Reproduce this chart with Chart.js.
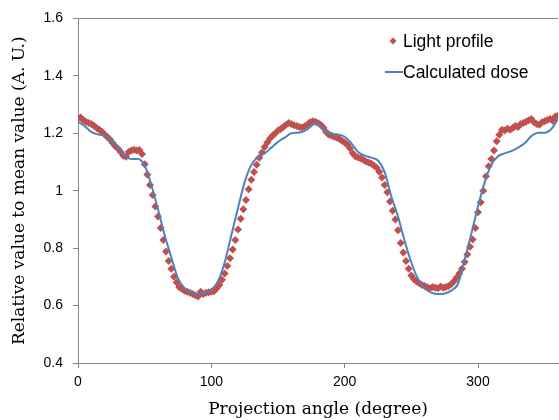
<!DOCTYPE html>
<html>
<head>
<meta charset="utf-8">
<script src="https://cdn.jsdelivr.net/npm/chart.js@4.4.0/dist/chart.umd.min.js"></script>
<style>
  html, body { margin: 0; padding: 0; background: #fff; overflow: hidden; }
  #wrap { position: relative; width: 562px; height: 420px; }
</style>
</head>
<body>
<div id="wrap"><canvas id="chart"></canvas></div>
<script>
// light profile, every 2 degrees
const lightAngles = [];
for (let a = 0; a <= 360; a += 2) lightAngles.push(a);
const lightValues = [
  1.252, 1.255, 1.245, 1.240, 1.236, 1.232, 1.226, 1.218, 1.212, 1.205,
  1.196, 1.187, 1.178, 1.166, 1.155, 1.146, 1.135, 1.122, 1.118, 1.135,
  1.140, 1.143, 1.140, 1.142, 1.128, 1.092, 1.056, 1.020, 0.985, 0.945,
  0.910, 0.870, 0.828, 0.788, 0.755, 0.728, 0.700, 0.680, 0.664, 0.658,
  0.652, 0.648, 0.645, 0.640, 0.636, 0.632, 0.648, 0.640, 0.645, 0.646,
  0.648, 0.650, 0.660, 0.672, 0.690, 0.712, 0.738, 0.765, 0.795, 0.828,
  0.865, 0.902, 0.935, 0.968, 1.005, 1.038, 1.065, 1.090, 1.115, 1.133,
  1.152, 1.168, 1.182, 1.192, 1.200, 1.210, 1.215, 1.222, 1.230, 1.236,
  1.232, 1.228, 1.225, 1.222, 1.220, 1.224, 1.230, 1.238, 1.242, 1.240,
  1.236, 1.230, 1.220, 1.205, 1.196, 1.192, 1.188, 1.185, 1.180, 1.174,
  1.168, 1.160, 1.148, 1.130, 1.120, 1.116, 1.112, 1.108, 1.102, 1.098,
  1.094, 1.088, 1.080, 1.066, 1.046, 1.020, 0.995, 0.962, 0.930, 0.900,
  0.862, 0.818, 0.785, 0.755, 0.728, 0.705, 0.692, 0.684, 0.678, 0.672,
  0.668, 0.664, 0.660, 0.665, 0.662, 0.660, 0.666, 0.662, 0.665, 0.668,
  0.675, 0.685, 0.698, 0.712, 0.728, 0.752, 0.778, 0.805, 0.830, 0.870,
  0.925, 0.960, 1.000, 1.050, 1.085, 1.110, 1.140, 1.172, 1.195, 1.212,
  1.210, 1.216, 1.212, 1.218, 1.225, 1.222, 1.232, 1.236, 1.240, 1.245,
  1.250, 1.238, 1.232, 1.230, 1.238, 1.242, 1.246, 1.250, 1.244, 1.258,
  1.262
];

// calculated dose
const doseAngles = [
  0, 5, 10, 15, 20, 25, 30, 35, 40, 45, 50, 55, 60, 65, 70, 75, 80, 85, 90, 95,
  100, 105, 110, 115, 120, 125, 130, 135, 140, 145, 150, 155, 160, 165, 170, 175, 178,
  180, 185, 190, 195, 200, 205, 210, 215, 220, 225, 230, 235, 240, 245, 250, 255,
  260, 265, 270, 275, 280, 285, 290, 295, 300, 305, 310, 315, 320, 325, 330, 335,
  340, 345, 350, 355, 360
];
const doseValues = [
  1.240, 1.225, 1.205, 1.196, 1.192, 1.175, 1.150, 1.120, 1.110, 1.110, 1.088, 1.020,
  0.935, 0.845, 0.768, 0.695, 0.660, 0.645, 0.640, 0.645,
  0.655, 0.685, 0.750, 0.845, 0.940, 1.030, 1.090, 1.118, 1.130, 1.150, 1.170, 1.185,
  1.200, 1.202, 1.208, 1.225, 1.237,
  1.232, 1.210, 1.198, 1.196, 1.188, 1.165, 1.135, 1.122, 1.115, 1.105, 1.065, 0.980,
  0.910, 0.825, 0.750, 0.693,
  0.660, 0.645, 0.640, 0.642, 0.652, 0.676, 0.760, 0.850, 0.945, 1.030, 1.090, 1.120,
  1.130, 1.138, 1.150, 1.165,
  1.190, 1.202, 1.202, 1.215, 1.250
];

const yTicks = [0.4, 0.6, 0.8, 1, 1.2, 1.4, 1.6];
const xTicks = [0, 100, 200, 300];

const red = "#C0504D";
const blue = "#4F81BD";
const axisGray = "#868686";

// legend drawn in the upper right of the plot
const cornerLegend = {
  id: "cornerLegend",
  afterDraw(chart) {
    const ctx = chart.ctx;
    ctx.save();
    ctx.font = "17.5px 'Liberation Sans', Arial, sans-serif";
    ctx.textBaseline = "middle";
    // diamond marker
    ctx.fillStyle = red;
    ctx.beginPath();
    ctx.moveTo(393, 37.5); ctx.lineTo(396.5, 41); ctx.lineTo(393, 44.5); ctx.lineTo(389.5, 41);
    ctx.closePath(); ctx.fill();
    ctx.fillStyle = "#000";
    ctx.fillText(chart.data.datasets[0].label, 403, 42);
    ctx.strokeStyle = blue;
    ctx.lineWidth = 2;
    ctx.beginPath(); ctx.moveTo(385, 72); ctx.lineTo(403, 72); ctx.stroke();
    ctx.fillText(chart.data.datasets[1].label, 403, 73);
    ctx.restore();
  }
};

new Chart(document.getElementById("chart"), {
  type: "scatter",
  data: {
    datasets: [
      {
        label: "Light profile",
        data: lightAngles.map((a, i) => ({ x: a, y: lightValues[i] })),
        pointStyle: "rectRot",
        pointRadius: 4,
        backgroundColor: red,
        borderColor: red,
        borderWidth: 0,
        showLine: false,
        order: 2
      },
      {
        label: "Calculated dose",
        data: doseAngles.map((a, i) => ({ x: a, y: doseValues[i] })),
        showLine: true,
        borderColor: blue,
        borderWidth: 2,
        pointRadius: 0,
        tension: 0.4,
        cubicInterpolationMode: "monotone",
        order: 1
      }
    ]
  },
  options: {
    responsive: true,
    maintainAspectRatio: false,
    animation: false,
    layout: { padding: { top: 17, right: 0, left: 0, bottom: 0 } },
    plugins: { legend: { display: false }, tooltip: { enabled: false } },
    scales: {
      x: {
        type: "linear",
        min: 0, max: 360,
        afterBuildTicks: s => { s.ticks = xTicks.map(v => ({ value: v })); },
        afterFit: s => { s.height = 57; },
        ticks: {
          font: { family: "'Liberation Sans', Arial, sans-serif", size: 14 },
          color: "#000",
          padding: 6,
          maxRotation: 0
        },
        grid: { display: true, drawOnChartArea: false, tickLength: 5, color: axisGray },
        border: { color: axisGray, width: 1 },
        title: {
          display: true,
          text: "Projection angle (degree)",
          font: { family: "'DejaVu Serif', serif", size: 17 },
          color: "#000",
          padding: { top: 0, bottom: 0 }
        }
      },
      y: {
        min: 0.4, max: 1.6,
        afterBuildTicks: s => { s.ticks = yTicks.map(v => ({ value: v })); },
        afterFit: s => { s.width = 78; },
        ticks: {
          font: { family: "'Liberation Sans', Arial, sans-serif", size: 14 },
          color: "#000",
          padding: 10,
          callback: v => String(Number(v.toFixed(1)))
        },
        grid: {
          tickLength: 5,
          color: c => (c.tick && c.tick.value === 1.6 ? axisGray : "rgba(0,0,0,0)"),
          tickColor: axisGray
        },
        border: { color: axisGray, width: 1 },
        title: {
          display: true,
          text: "Relative value to mean value (A. U.)",
          font: { family: "'DejaVu Serif', serif", size: 17 },
          color: "#000",
          padding: { top: 9, bottom: 0 }
        }
      }
    }
  },
  plugins: [cornerLegend]
});
</script>
</body>
</html>
